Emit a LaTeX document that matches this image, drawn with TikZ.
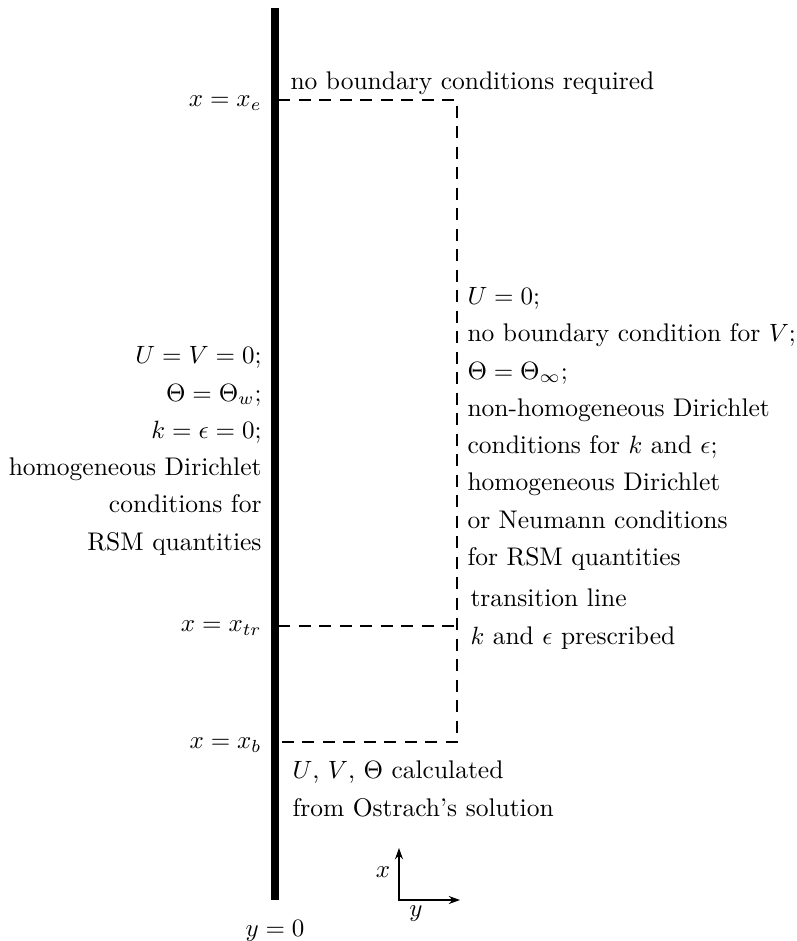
\documentclass[tikz,border=0pt]{standalone}
\usetikzlibrary{arrows.meta}
\begin{document}
\begin{tikzpicture}[x=0.4pt,y=-0.4pt,
  lbl/.style={inner sep=0pt,font=\fontsize{10.2}{14.9}\selectfont},
  blk/.style={lbl},
  dsh/.style={line width=0.6pt,dash pattern=on 4.8pt off 3.4pt},
  wall/.style={line width=2.9pt}]
\useasboundingbox (0,0) rectangle (796,941);
% wall
\coordinate (wt) at (275,8);
\coordinate (wb) at (275,900);
\draw[wall] (wt) -- (wb);
% dashed boundary
\coordinate (e0) at (278,100);
\coordinate (e1) at (457,100);
\coordinate (b1) at (457,742);
\coordinate (b0) at (278,742);
\coordinate (t0) at (278,626);
\coordinate (t1) at (457,626);
\draw[dsh] (e0) -- (e1) -- (b1) -- (b0);
\draw[dsh] (t0) -- (t1);
% labels at wall
\node[lbl,anchor=east] (xe) at (262,103) {$x=x_e$};
\node[lbl,anchor=east] (xtr) at (262,628) {$x=x_{tr}$};
\node[lbl,anchor=east] (xb) at (262,745) {$x=x_b$};
\node[lbl] (y0) at (275,931) {$y=0$};
% top text
\node[lbl,anchor=west] (nobc) at (290,83) {no boundary conditions required};
% left block
\node[blk,anchor=east,align=right] (left) at (262,451) {$U=V=0;$\\ $\Theta=\Theta_w;$\\ $k=\epsilon=0;$\\ homogeneous Dirichlet\\ conditions for\\ RSM quantities};
% right block
\node[blk,anchor=west,align=left] (right) at (467,429) {$U=0;$\\ no boundary condition for $V;$\\ $\Theta=\Theta_\infty;$\\ non-homogeneous Dirichlet\\ conditions for $k$ and $\epsilon;$\\ homogeneous Dirichlet\\ or Neumann conditions\\ for RSM quantities};
% transition
\node[blk,anchor=west,align=left] (trans) at (470,619) {transition line\\ $k$ and $\epsilon$ prescribed};
% bottom
\node[blk,anchor=west,align=left] (ostr) at (292,789) {$U$, $V$, $\Theta$ calculated\\ from Ostrach's solution};
% axes
\coordinate (ax) at (399,848);
\coordinate (ao) at (399,900);
\coordinate (ay) at (460,900);
\draw[line width=0.6pt,{Stealth[length=4.5pt,width=3.2pt]}-{Stealth[length=4.5pt,width=3.2pt]}] (ax) -- (ao) -- (ay);
\node[lbl] (axl) at (383,872) {$x$};
\node[lbl] (ayl) at (416,914) {$y$};
\end{tikzpicture}
\end{document}
